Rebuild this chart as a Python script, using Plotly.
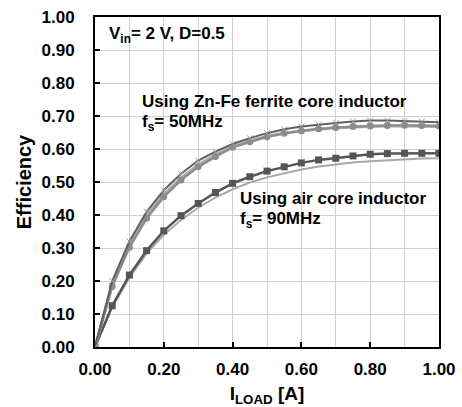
import plotly.graph_objects as go

i_load = [0.00, 0.05, 0.10, 0.15, 0.20, 0.25, 0.30, 0.35, 0.40, 0.45, 0.50,
          0.55, 0.60, 0.65, 0.70, 0.75, 0.80, 0.85, 0.90, 0.95, 1.00]
ferrite_meas = [0, 0.200, 0.320, 0.410, 0.475, 0.525, 0.565, 0.592, 0.615, 0.633, 0.648,
                0.660, 0.668, 0.674, 0.679, 0.683, 0.686, 0.686, 0.685, 0.683, 0.681]
ferrite_circ = [0, 0.183, 0.302, 0.390, 0.455, 0.506, 0.546, 0.577, 0.605, 0.622, 0.637,
                0.648, 0.655, 0.661, 0.665, 0.668, 0.670, 0.671, 0.672, 0.671, 0.670]
ferrite_sim = [0, 0.190, 0.310, 0.400, 0.462, 0.512, 0.552, 0.582, 0.607, 0.625, 0.638,
               0.648, 0.655, 0.660, 0.664, 0.667, 0.669, 0.670, 0.670, 0.669, 0.668]
air_meas = [0, 0.125, 0.218, 0.292, 0.352, 0.398, 0.435, 0.468, 0.496, 0.516, 0.533,
            0.546, 0.558, 0.567, 0.572, 0.579, 0.584, 0.586, 0.587, 0.587, 0.587]
air_sim = [0, 0.120, 0.210, 0.283, 0.340, 0.385, 0.422, 0.453, 0.478, 0.498, 0.514,
           0.527, 0.538, 0.547, 0.554, 0.559, 0.563, 0.566, 0.569, 0.571, 0.572]

FONT = "Liberation Sans"
fig = go.Figure()
fig.add_trace(go.Scatter(x=i_load, y=air_sim, mode="lines",
                         line=dict(color="#a8a8a8", width=2)))
fig.add_trace(go.Scatter(x=i_load, y=air_meas, mode="lines+markers",
                         line=dict(color="#555555", width=2.5),
                         marker=dict(symbol="square", size=7, color="#555555")))
fig.add_trace(go.Scatter(x=i_load, y=ferrite_sim, mode="lines",
                         line=dict(color="#b0b0b0", width=3)))
fig.add_trace(go.Scatter(x=i_load, y=ferrite_circ, mode="lines+markers",
                         line=dict(color="#8c8c8c", width=2.5),
                         marker=dict(symbol="circle", size=7, color="#8c8c8c")))
fig.add_trace(go.Scatter(x=i_load, y=ferrite_meas, mode="lines+markers",
                         line=dict(color="#606060", width=2),
                         marker=dict(symbol="x-thin", size=6,
                                     line=dict(color="#a0a0a0", width=1))))

axis_common = dict(showline=True, linecolor="black", linewidth=2, mirror=True,
                   gridcolor="#d0d0d0", gridwidth=1, zeroline=False, automargin=False,
                   ticks="inside", ticklen=5, tickcolor="black", tickwidth=2,
                   tickfont=dict(family=FONT, size=17, color="black", weight="bold"))
fig.update_xaxes(range=[0, 1.0], dtick=0.2, tickformat=".2f", ticklabelstandoff=6,
                 minor=dict(dtick=0.1, showgrid=True, gridcolor="#d0d0d0"),
                 title=dict(text="I<sub>LOAD</sub> [A]", standoff=11,
                            font=dict(family=FONT, size=19, color="black", weight="bold")),
                 **axis_common)
fig.update_yaxes(range=[0, 1.0], dtick=0.1, tickformat=".2f", ticklabelstandoff=15,
                 title=dict(text="Efficiency", standoff=5,
                            font=dict(family=FONT, size=20, color="black", weight="bold")),
                 **axis_common)

ann_font = dict(family=FONT, size=17, color="black", weight="bold")
anns = [
    (0.035, 0.945, "V<sub>in</sub>= 2 V, D=0.5"),
    (0.13, 0.745, "Using Zn-Fe ferrite core inductor"),
    (0.13, 0.68, "f<sub>s</sub>= 50MHz"),
    (0.415, 0.45, "Using air core inductor"),
    (0.415, 0.385, "f<sub>s</sub>= 90MHz"),
]
for x, y, t in anns:
    fig.add_annotation(x=x, y=y, xref="x", yref="y", text=t, showarrow=False,
                       xanchor="left", yanchor="middle", font=ann_font)

fig.update_layout(width=462, height=407, showlegend=False,
                  plot_bgcolor="white", paper_bgcolor="white",
                  margin=dict(l=95, r=23, t=17, b=60))
fig.write_html("out.html")
